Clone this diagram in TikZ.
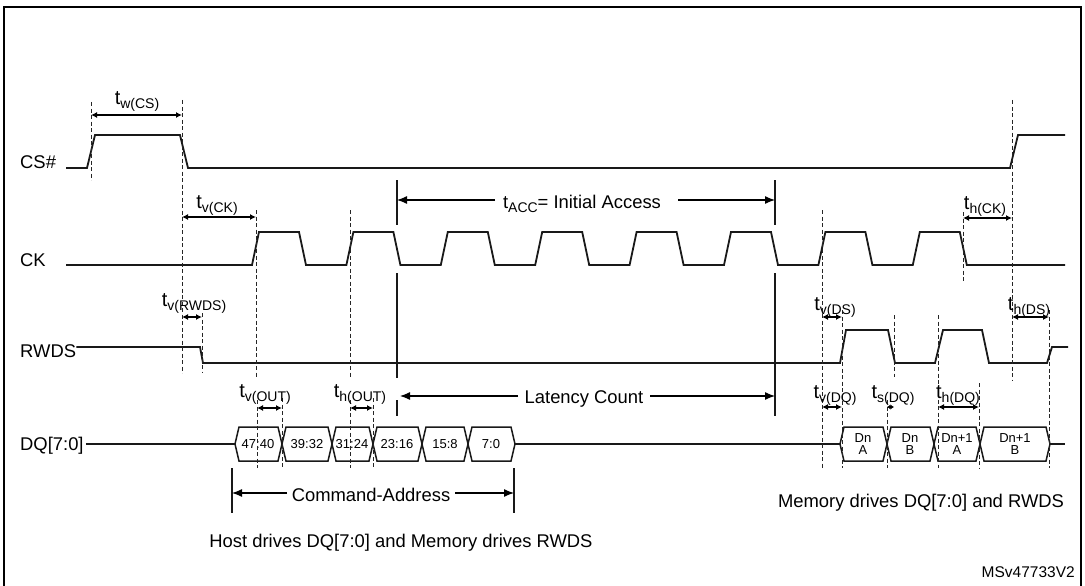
\documentclass[tikz,border=0pt]{standalone}
\usepackage{fontspec}
\setmainfont{Liberation Sans}
\usetikzlibrary{arrows.meta}
\newcommand{\tsb}[1]{t\raisebox{-4.5pt}{\fontsize{14}{14}\selectfont #1}}
\begin{document}
\begin{tikzpicture}[x=1pt,y=-1pt,
  sig/.style={line width=1.8pt, line join=miter, color=black!90},
  bus/.style={line width=1.5pt, line join=miter, color=black!90},
  dsh/.style={line width=0.9pt, dash pattern=on 4pt off 2.5pt, color=black!85},
  bar/.style={line width=1.8pt, color=black!90},
  lbl/.style={font=\fontsize{18.4}{20}\selectfont, inner sep=0pt, anchor=base west},
  tlab/.style={font=\fontsize{18.4}{20}\selectfont, inner sep=0pt, anchor=base},
  tim/.style={font=\fontsize{20}{20}\selectfont, inner sep=0pt, anchor=base},
  dlab/.style={font=\fontsize{13}{13}\selectfont, inner sep=0pt, align=center},
  tarr/.style={{Latex[length=6pt,width=6pt]}-{Latex[length=6pt,width=6pt]}, line width=1.2pt},
  tarrs/.style={{Latex[length=3.5pt,width=5pt]}-{Latex[length=3.5pt,width=5pt]}, line width=1.2pt},
  bigarr/.style={-{Latex[length=10pt,width=8pt]}, line width=1.2pt}]
\useasboundingbox (0,0) rectangle (1085,586);
% frame
\draw[line width=2pt] (4,586) -- (4,7) -- (1081,7) -- (1081,586);

% signal names
\node[lbl] (ncs) at (20,168) {CS\#};
\node[lbl] (nck) at (20,266) {CK};
\node[lbl] (nrw) at (20,357) {RWDS};
\node[lbl] (ndq) at (20,450) {DQ[7:0]};

% CS#
\draw[sig] (66,168) -- (87,168) -- (95,135) -- (180,135) -- (188,168) -- (1010,168) -- (1018,135) -- (1065,135);
% CK
\draw[sig] (66,265) \foreach \k in {0,...,7} { -- ({252+94.4*\k},265) -- ({259+94.4*\k},232) -- ({299+94.4*\k},232) -- ({306+94.4*\k},265) } -- (1065,265);
% RWDS
\draw[sig] (nrw.east |- 0,347) -- (200,347) -- (203,363) -- (840,363) -- (846,330) -- (888,330) -- (895,363) -- (935,363) -- (943,330) -- (982,330) -- (989,363) -- (1047,363) -- (1052,347) -- (1068,347);
% DQ
\draw[sig] ([xshift=2pt]ndq.east |- 0,444) -- (235,444);
\draw[sig] (515,444) -- (840,444);
\draw[sig] (1050,444) -- (1065,444);
\foreach \a/\b in {235/282,282/332,332/373,373/422,422/468,468/515,840/887,887/934,934/980,980/1050}
  \draw[bus] (\a,444) -- (\a+4,427) -- (\b-4,427) -- (\b,444) -- (\b-4,461) -- (\a+4,461) -- cycle;
\node[dlab] (d1) at (258,444) {47:40};
\node[dlab] (d2) at (307,444) {39:32};
\node[dlab] (d3) at (352,444) {31:24};
\node[dlab] (d4) at (397,444) {23:16};
\node[dlab] (d5) at (445,444) {15:8};
\node[dlab] (d6) at (491,444) {7:0};
\node[dlab] (e1) at (863,444) {Dn\\[-1pt]A};
\node[dlab] (e2) at (910,444) {Dn\\[-1pt]B};
\node[dlab] (e3) at (957,444) {Dn+1\\[-1pt]A};
\node[dlab] (e4) at (1015,444) {Dn+1\\[-1pt]B};

% dashed guides
\foreach \x/\ya/\yb in {91/102/180, 182/100/373, 202/313/373, 256/210/377, 350/210/377,
  257/400/468, 282/398/468, 350/400/468, 373/398/468,
  822/210/468, 842/310/468, 894/315/377, 887/400/468, 938/315/468, 979/383/468,
  963/212/283, 1012/100/380, 1049/310/468}
  \draw[dsh] (\x,\ya) -- (\x,\yb);

% solid markers
\draw[bar] (397,180) -- (397,225);
\draw[bar] (775,180) -- (775,225);
\draw[bar] (397,273) -- (397,378);
\draw[bar] (397,400) -- (397,416);
\draw[bar] (775,273) -- (775,416);
\draw[bar] (232,468) -- (232,513);
\draw[bar] (514,468) -- (514,513);

% timing arrows
\draw[tarr] (91,115) -- (182,115);
\draw[tarr] (182,217) -- (256,217);
\draw[tarr] (182,317) -- (202,317);
\draw[tarr] (257,408) -- (282,408);
\draw[tarr] (350,408) -- (373,408);
\draw[tarr] (963,218) -- (1012,218);
\draw[tarr] (822,317) -- (842,317);
\draw[tarr] (1012,317) -- (1049,317);
\draw[tarr] (822,407) -- (842,407);
\draw[tarrs] (887,407) -- (894,407);
\draw[tarr] (938,407) -- (979,407);

% timing labels
\node[tim] (twcs) at (137,104) {\tsb{w(CS)}};
\node[tim] (tvck) at (217,208) {\tsb{v(CK)}};
\node[tim] (tvrw) at (194,306) {\tsb{v(RWDS)}};
\node[tim] (tvout) at (265,397) {\tsb{v(OUT)}};
\node[tim] (thout) at (360,397) {\tsb{h(OUT)}};
\node[tim] (thck) at (985,209) {\tsb{h(CK)}};
\node[tim] (tvds) at (835,310) {\tsb{v(DS)}};
\node[tim] (thds) at (1029,310) {\tsb{h(DS)}};
\node[tim] (tvdq) at (835,398) {\tsb{v(DQ)}};
\node[tim] (tsdq) at (893,398) {\tsb{s(DQ)}};
\node[tim] (thdq) at (958,398) {\tsb{h(DQ)}};

% spans
\node[tlab] (tacc) at (582,208) {\tsb{ACC}= Initial Access};
\draw[bigarr] (495,200) -- (397,200);
\draw[bigarr] (678,200) -- (775,200);
\node[tlab] (lat) at (584,403) {Latency Count};
\draw[bigarr] (518,396) -- (400,396);
\draw[bigarr] (650,396) -- (775,396);
\node[tlab] (cmd) at (371,501) {Command-Address};
\draw[bigarr] (287,493) -- (232,493);
\draw[bigarr] (455,493) -- (514,493);

% notes
\node[tlab] (mem) at (921,507) {Memory drives DQ[7:0] and RWDS};
\node[tlab] (host) at (401,547) {Host drives DQ[7:0] and Memory drives RWDS};
\node[font=\fontsize{15.5}{16}\selectfont, inner sep=0pt, anchor=base east] (id) at (1075,577) {MSv47733V2};
\end{tikzpicture}
\end{document}
